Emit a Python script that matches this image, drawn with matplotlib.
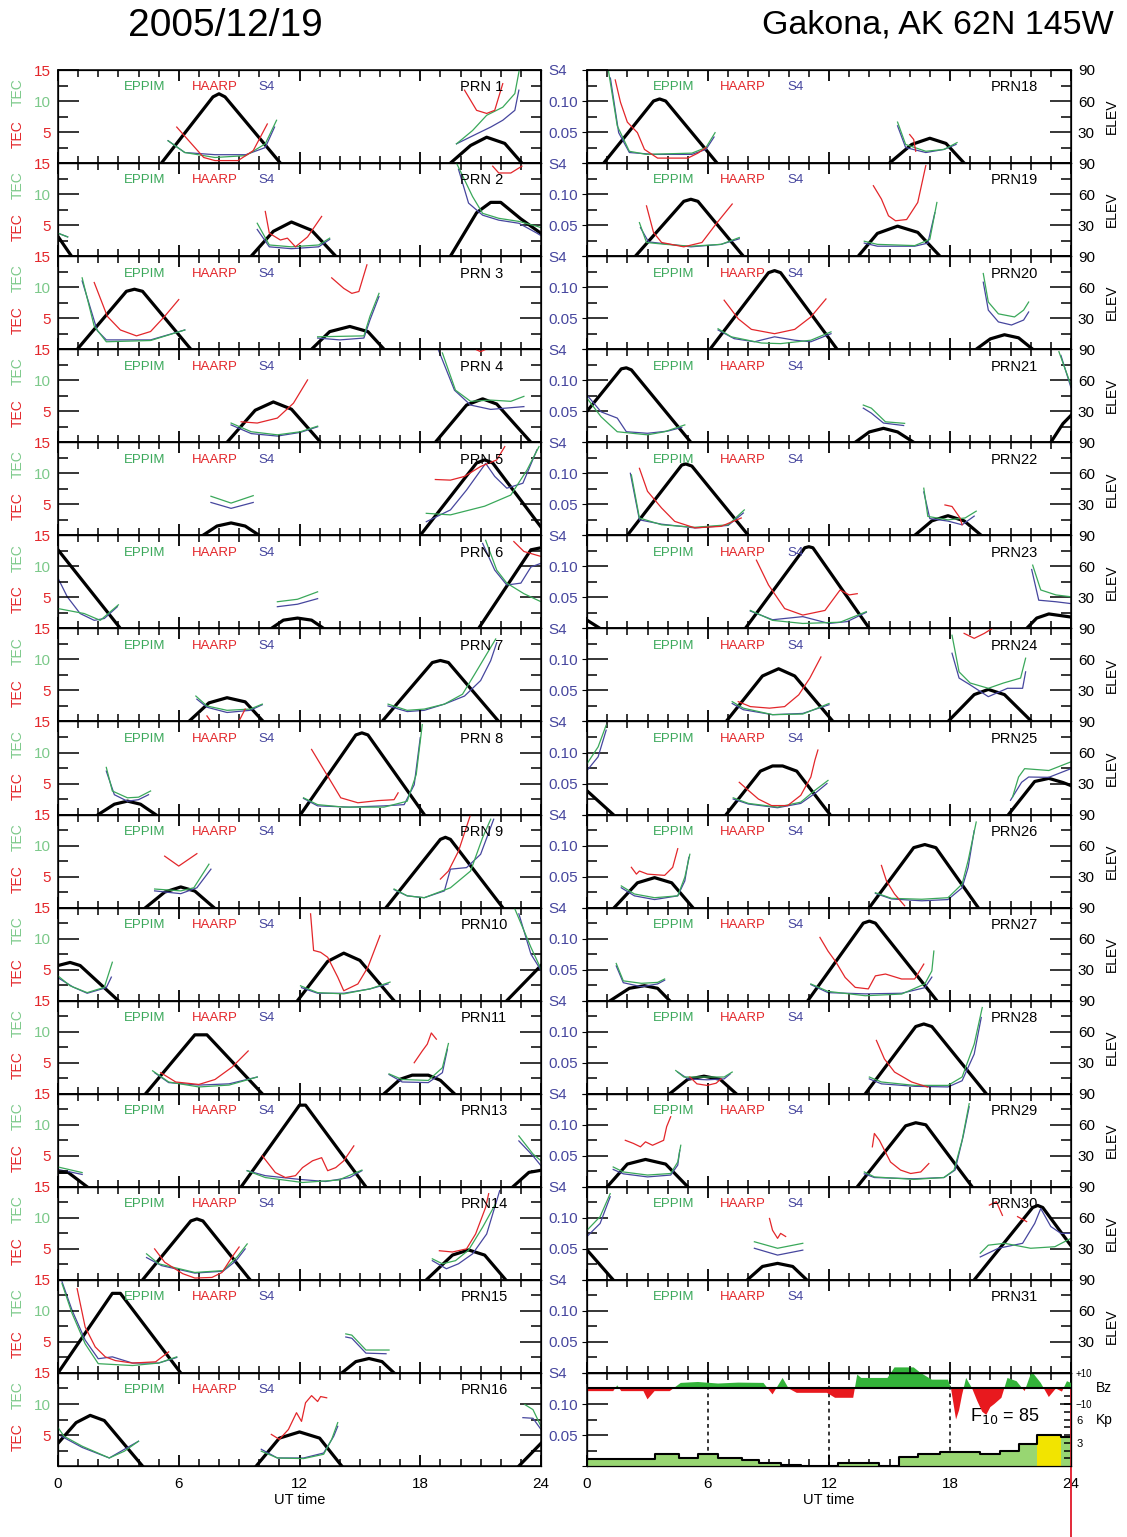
import numpy as np
import matplotlib.pyplot as plt
from matplotlib.ticker import FixedLocator

plt.rcParams['font.family'] = ['Liberation Sans', 'DejaVu Sans']

# ---- data: (UT hour, value) per pass ----
LEFT_PRNS = [1, 2, 3, 4, 5, 6, 7, 8, 9, 10, 11, 13, 14, 15, 16]
RIGHT_PRNS = [18, 19, 20, 21, 22, 23, 24, 25, 26, 27, 28, 29, 30, 31]

# elevation (deg)
ELEV = {
    1: [[(5.14, 0), (7.7, 64), (8.0, 67), (8.3, 64), (11.05, 0)], [(19.5, 0), (20.5, 17), (21.3, 25), (22.2, 19), (23.05, 0)]],
    2: [[(0, 19), (0.67, 0)], [(9.6, 0), (10.7, 24), (11.6, 33), (12.6, 25), (13.8, 0)], [(19.5, 0), (20.8, 42), (21.5, 52), (22.0, 52), (23.0, 36), (24, 22)]],
    3: [[(0.96, 0), (3.4, 56), (3.8, 58), (4.2, 56), (6.6, 0)], [(12.6, 0), (13.5, 17), (14.5, 22), (15.4, 17), (16.2, 0)]],
    4: [[(8.4, 0), (9.8, 31), (10.7, 39), (11.6, 32), (13.05, 0)], [(18.75, 0), (20.3, 36), (21.1, 42), (21.8, 37), (23.5, 0)]],
    5: [[(7.2, 0), (7.9, 9), (8.6, 12), (9.3, 9), (10.0, 0)], [(18.0, 0), (20.8, 70), (21.2, 73), (21.6, 70), (24, 8)]],
    6: [[(0, 76), (3.1, 0)], [(10.6, 0), (11.2, 8), (11.9, 10), (12.6, 8), (13.2, 0)], [(20.9, 0), (23.5, 76), (24, 78)]],
    7: [[(6.5, 0), (7.5, 18), (8.4, 23), (9.3, 19), (10.2, 0)], [(16.1, 0), (18.6, 57), (19.0, 59), (19.4, 57), (21.9, 0)]],
    8: [[(2.0, 0), (2.8, 10), (3.45, 13), (4.1, 10), (4.85, 0)], [(12.05, 0), (14.8, 77), (15.1, 79), (15.4, 77), (18.2, 0)]],
    9: [[(4.35, 0), (5.3, 15), (6.1, 20), (6.8, 16), (7.75, 0)], [(16.3, 0), (19.0, 66), (19.25, 68), (19.5, 66), (22.1, 0)]],
    10: [[(0, 34), (0.6, 37), (1.1, 34), (3.0, 0)], [(11.9, 0), (13.4, 38), (14.2, 46), (15.0, 39), (16.7, 0)], [(22.3, 0), (24, 34)]],
    11: [[(4.35, 0), (6.8, 57), (7.4, 57), (10.15, 0)], [(16.2, 0), (17.0, 14), (17.6, 18), (18.4, 18), (19.0, 13), (19.7, 0)]],
    13: [[(0, 14), (0.5, 14), (1.45, 0)], [(9.1, 0), (12.0, 79), (12.3, 79), (15.3, 0)], [(22.6, 0), (23.4, 14), (24, 16)]],
    14: [[(4.2, 0), (6.6, 57), (6.9, 59), (7.2, 57), (9.55, 0)], [(18.3, 0), (19.6, 24), (20.4, 29), (21.2, 24), (22.25, 0)]],
    15: [[(0, 0), (2.7, 77), (3.1, 77), (6.1, 0)], [(14.1, 0), (14.8, 11), (15.45, 14), (16.1, 11), (16.7, 0)]],
    16: [[(0, 22), (0.9, 42), (1.6, 49), (2.3, 44), (4.2, 0)], [(9.85, 0), (11.0, 27), (12.0, 33), (13.0, 27), (14.1, 0)], [(22.9, 0), (24, 22)]],
    18: [[(0.83, 0), (3.3, 60), (3.6, 62), (3.9, 60), (6.45, 0)], [(15.0, 0), (16.1, 18), (17.0, 24), (17.8, 19), (18.7, 0)]],
    19: [[(2.4, 0), (4.8, 53), (5.15, 55), (5.5, 53), (7.75, 0)], [(13.45, 0), (14.4, 22), (15.4, 29), (16.4, 23), (17.5, 0)]],
    20: [[(6.1, 0), (9.0, 74), (9.3, 76), (9.6, 74), (12.4, 0)], [(19.3, 0), (20.0, 10), (20.7, 14), (21.4, 11), (22.1, 0)]],
    21: [[(0, 30), (1.7, 71), (1.95, 72), (2.2, 70), (5.15, 0)], [(13.3, 0), (14.0, 10), (14.7, 13.5), (15.4, 10), (16.2, 0)], [(23.0, 0), (23.6, 18), (24, 26)]],
    22: [[(2.0, 0), (4.7, 68), (4.9, 69), (5.2, 67), (8.0, 0)], [(16.25, 0), (17.1, 14), (17.9, 19), (18.7, 14), (19.55, 0)]],
    23: [[(0, 8), (0.65, 0)], [(7.85, 0), (10.8, 78), (11.0, 79), (11.2, 78), (14.0, 0)], [(21.8, 0), (22.3, 10), (22.9, 14), (24, 11)]],
    24: [[(6.9, 0), (8.7, 44), (9.5, 51), (10.3, 44), (12.2, 0)], [(17.9, 0), (19.2, 26), (19.9, 31), (20.7, 26), (22.05, 0)]],
    25: [[(0, 23), (1.3, 0)], [(6.9, 0), (8.6, 42), (9.2, 47), (9.7, 47), (10.4, 42), (12.05, 0)], [(20.9, 0), (22.2, 32), (22.9, 35), (23.6, 31), (24, 28)]],
    26: [[(1.35, 0), (2.5, 24), (3.35, 29), (4.2, 24), (5.25, 0)], [(14.0, 0), (16.2, 58), (16.75, 61), (17.3, 58), (19.4, 0)]],
    27: [[(1.15, 0), (2.1, 12), (2.85, 14.5), (3.5, 12), (4.1, 0)], [(10.95, 0), (13.7, 75), (14.0, 77), (14.3, 75), (17.35, 0)]],
    28: [[(4.1, 0), (5.0, 14), (5.8, 17), (6.6, 14), (7.4, 0)], [(13.8, 0), (16.3, 65), (16.7, 67.5), (17.1, 65), (19.8, 0)]],
    29: [[(1.0, 0), (2.0, 22), (2.9, 26.5), (3.9, 22), (5.0, 0)], [(13.4, 0), (15.8, 59), (16.3, 62), (16.8, 60), (19.1, 0)]],
    30: [[(0, 29), (1.3, 0)], [(7.95, 0), (8.7, 13), (9.45, 16), (10.2, 13), (10.9, 0)], [(19.2, 0), (22.1, 70), (22.35, 72), (22.6, 70), (24, 33)]],
    31: [],
}

# EPPIM model TEC
EPPIM = {
    1: [[(5.47, 3.6), (6.3, 1.7), (7.8, 0.9), (9.33, 1.2), (10.3, 3.1), (10.86, 6.9)], [(19.8, 3.1), (20.6, 5.25), (21.3, 7.7), (22.1, 9.0), (22.7, 11.2), (22.95, 15.5)]],
    2: [[(0, 3.7), (0.48, 3.1)], [(9.9, 5.3), (10.5, 1.8), (11.6, 1.5), (12.95, 1.8), (13.5, 2.9)], [(19.8, 15), (20.6, 9.6), (21.1, 6.9), (21.9, 6.1), (22.9, 5.6), (23.8, 4.8), (24, 4.6)]],
    3: [[(1.2, 11.5), (1.8, 3.7), (2.4, 1.2), (4.6, 1.4), (6.3, 3.1)], [(12.9, 2.0), (15.2, 2.15), (15.5, 5.3), (15.95, 9.0)]],
    4: [[(8.6, 3.1), (9.6, 1.7), (10.9, 1.2), (12.05, 1.7), (12.9, 2.6)], [(19.1, 14.4), (19.75, 8.4), (20.5, 6.6), (21.5, 6.8), (22.5, 6.6), (23.15, 7.4)]],
    5: [[(7.6, 6.3), (8.6, 5.2), (9.7, 6.4)], [(18.3, 3.55), (19.5, 3.3), (21.2, 4.7), (22.5, 6.5), (23.3, 10.5), (23.9, 14.3)]],
    6: [[(0, 3.2), (1.3, 2.4), (2.1, 1.3), (3.0, 3.8)], [(10.9, 4.3), (11.9, 4.7), (12.9, 5.9)], [(21.25, 14.2), (21.8, 9.4), (22.3, 7.3), (23.15, 5.6), (24, 4.3)]],
    7: [[(6.85, 4.1), (7.4, 2.5), (8.4, 1.8), (9.55, 2.0), (10.15, 2.8)], [(16.4, 2.8), (17.35, 1.8), (18.2, 2.0), (19.2, 2.8), (20.1, 4.4), (20.7, 7.6), (21.75, 13.3)]],
    8: [[(2.4, 7.6), (2.7, 3.8), (3.45, 2.7), (4.0, 2.8), (4.6, 3.8)], [(12.2, 2.7), (12.9, 1.6), (14.2, 1.2), (16.2, 1.2), (17.35, 2.15), (17.8, 6.45), (18.1, 14.5)]],
    9: [[(4.8, 3.0), (6.1, 2.7), (6.75, 3.2), (7.5, 7.0)], [(16.7, 3.0), (17.35, 1.9), (18.2, 1.6), (19.5, 3.2), (20.5, 5.9), (21.1, 11.3), (21.5, 14.25)]],
    10: [[(0, 4.0), (0.6, 2.4), (1.45, 1.3), (2.3, 2.15), (2.7, 6.2)], [(12.05, 2.4), (12.9, 1.3), (14.2, 1.1), (15.5, 1.9), (16.5, 3.0)], [(22.7, 14.8), (23.5, 8.6), (24, 5.1)]],
    11: [[(4.7, 3.7), (5.5, 1.9), (7.0, 1.1), (8.5, 1.4), (9.9, 2.7)], [(16.45, 3.2), (17.1, 2.3), (18.4, 2.15), (19.1, 4.2), (19.4, 8.1)]],
    13: [[(0, 3.2), (1.2, 2.3)], [(9.4, 2.6), (10.3, 1.5), (12.15, 0.7), (13.95, 1.1), (15.1, 2.7)], [(22.9, 8.2), (23.6, 5.3), (24, 4.2)]],
    14: [[(4.4, 4.2), (5.0, 2.6), (6.8, 1.2), (8.2, 1.5), (8.9, 3.7), (9.4, 5.8)], [(18.6, 3.4), (19.1, 2.6), (19.75, 3.1), (20.4, 4.8), (21.1, 8.5), (21.75, 12.3)]],
    15: [[(0.2, 14.4), (0.7, 9.6), (1.35, 4.7), (2.0, 1.5), (3.7, 1.2), (5.0, 1.6), (5.9, 2.6)], [(14.3, 6.3), (14.6, 6.1), (15.3, 3.7), (16.45, 3.7)]],
    16: [[(0, 6.2), (0.3, 4.8), (1.2, 3.2), (2.55, 1.3), (3.3, 2.4), (4.0, 4.0)], [(10.1, 2.4), (10.9, 1.3), (12.2, 1.2), (13.2, 1.9), (13.6, 4.3), (13.9, 7.0)], [(23.2, 9.9), (23.6, 9.1), (24, 6.4)]],
    18: [[(1.07, 14.75), (1.5, 6.0), (2.1, 1.9), (2.95, 1.4), (5.2, 1.6), (5.9, 2.5), (6.35, 4.9)], [(15.4, 6.6), (15.8, 3.0), (16.8, 1.9), (17.7, 2.2), (18.35, 3.3)]],
    19: [[(2.6, 5.4), (2.95, 2.2), (3.9, 1.9), (5.15, 1.6), (6.65, 1.9), (7.55, 3.0)], [(13.75, 2.4), (14.4, 1.9), (16.25, 1.7), (17.0, 2.7), (17.35, 8.65)]],
    20: [[(6.5, 3.3), (7.15, 2.0), (8.65, 1.0), (9.6, 0.9), (11.1, 1.45), (12.1, 2.8)], [(19.65, 12.2), (19.9, 7.6), (20.4, 5.7), (21.2, 5.2), (21.65, 6.3), (21.9, 7.6)]],
    21: [[(0, 7.1), (0.7, 4.1), (1.5, 1.7), (3.0, 1.2), (3.85, 1.7), (4.85, 2.8)], [(13.7, 6.0), (14.1, 5.5), (14.8, 3.3), (15.75, 3.05)], [(23.4, 14.6), (24, 9.2)]],
    22: [[(2.2, 9.75), (2.6, 2.8), (3.7, 1.7), (5.35, 1.3), (7.0, 1.7), (7.8, 4.1)], [(16.7, 7.6), (16.9, 3.05), (17.9, 2.5), (18.75, 2.8), (19.3, 3.9)]],
    23: [[(8.1, 2.9), (9.2, 1.3), (10.7, 0.8), (12.55, 1.0), (13.85, 2.7)], [(22.1, 10.2), (22.5, 6.2), (23.25, 5.4), (24, 5.1)]],
    24: [[(7.2, 3.2), (7.75, 2.15), (9.2, 1.1), (10.7, 1.2), (12.0, 2.9)], [(18.1, 13.9), (18.45, 8.0), (19.0, 6.2), (19.9, 5.35), (20.65, 6.2), (21.5, 7.0), (21.75, 10.2)]],
    25: [[(0, 8.2), (0.55, 10.9), (0.95, 14.4)], [(7.25, 2.7), (8.0, 1.8), (9.45, 1.2), (10.6, 2.0), (11.3, 3.9), (11.95, 5.5)], [(21.1, 2.8), (21.4, 6.05), (21.7, 7.4), (22.9, 7.1), (24, 8.5)]],
    26: [[(1.7, 3.5), (2.35, 2.2), (3.35, 1.6), (4.5, 1.9), (4.85, 4.9), (5.1, 8.6)], [(14.3, 2.4), (15.1, 1.5), (16.6, 1.35), (17.9, 1.6), (18.6, 3.8), (18.9, 7.6), (19.3, 13.8)]],
    27: [[(1.45, 6.0), (1.8, 3.2), (2.7, 2.8), (3.5, 2.95), (3.85, 3.5)], [(11.1, 2.7), (11.95, 1.5), (13.8, 0.8), (15.6, 1.07), (16.75, 2.7), (17.1, 4.8), (17.2, 8.0)]],
    28: [[(4.4, 3.75), (4.8, 2.7), (5.95, 2.7), (6.8, 2.7), (7.2, 3.5)], [(14.0, 2.7), (14.6, 1.9), (16.25, 1.35), (17.9, 1.35), (18.6, 2.7), (19.2, 8.0), (19.6, 13.9)]],
    29: [[(1.3, 3.2), (1.8, 2.4), (3.0, 1.9), (4.15, 2.15), (4.5, 4.0), (4.65, 6.7)], [(13.75, 2.4), (14.25, 1.6), (16.2, 1.2), (17.7, 1.5), (18.2, 2.7), (18.6, 7.5), (18.95, 13.4)]],
    30: [[(0, 8.0), (0.65, 10.2), (1.15, 13.9)], [(8.3, 6.15), (9.45, 5.1), (10.7, 5.9)], [(19.5, 4.3), (19.9, 5.6), (20.7, 5.9), (22.0, 5.1), (23.2, 5.35), (24, 6.7)]],
    31: [],
}

# HAARP measured TEC
HAARP = {
    1: [[(5.9, 5.8), (6.5, 3.6), (7.24, 0.9), (7.8, 0.4), (8.95, 0.4), (9.7, 2.0), (10.4, 6.3)], [(20.2, 11.75), (20.8, 8.5), (21.3, 8.0), (21.7, 8.5), (22.1, 12.8)]],
    2: [[(10.3, 7.2), (10.5, 3.7), (11.05, 2.6), (11.4, 2.9), (11.8, 1.5), (12.4, 3.1), (13.1, 6.4)], [(21.6, 14.5), (21.9, 13.4), (22.5, 13.4), (23.05, 14.5)]],
    3: [[(1.8, 10.75), (2.45, 5.3), (3.1, 3.1), (3.9, 2.15), (4.6, 2.85), (5.3, 5.3), (6.0, 8.0)], [(13.6, 11.5), (14.2, 9.8), (14.6, 9.0), (14.95, 9.3), (15.35, 13.6)]],
    4: [[(9.1, 3.3), (9.9, 3.1), (10.9, 3.9), (11.7, 6.3), (12.4, 10.05)], [(20.8, 14.9), (21.0, 14.6), (21.2, 14.9)]],
    5: [[(18.75, 9.0), (19.5, 8.9), (20.2, 9.5), (21.0, 11.1), (21.8, 12.15), (22.2, 14.3)]],
    6: [[(22.65, 14.0), (23.15, 12.4), (24, 11.6)]],
    7: [[(7.4, 0.9), (7.6, 0.0)], [(9.0, 0.1), (9.3, 2.0)]],
    8: [[(12.6, 10.5), (13.4, 6.2), (14.05, 2.7), (14.9, 1.9), (15.9, 2.25), (16.7, 2.4), (16.9, 3.5)]],
    9: [[(5.3, 8.3), (6.0, 6.7), (6.9, 8.7)], [(19.0, 4.6), (19.4, 5.9), (19.9, 9.1), (20.5, 15.0)]],
    10: [[(12.55, 14.0), (12.7, 8.1), (13.05, 7.8), (13.4, 7.0), (13.9, 3.8), (14.2, 1.6), (14.9, 2.7), (15.4, 5.4), (16.0, 10.5)]],
    11: [[(5.1, 3.4), (5.85, 1.9), (7.0, 1.5), (7.8, 2.3), (8.65, 4.3), (9.45, 6.9)], [(17.7, 5.0), (18.1, 6.9), (18.35, 8.0), (18.55, 9.8), (18.8, 8.8)]],
    13: [[(10.15, 5.0), (10.8, 2.3), (11.3, 1.5), (11.8, 1.8), (12.15, 3.1), (12.65, 4.2), (13.1, 4.7), (13.4, 2.6), (13.8, 3.1), (14.2, 4.2), (14.7, 6.6)]],
    14: [[(4.8, 5.0), (5.3, 2.85), (6.2, 1.0), (6.8, 0.3), (7.65, 0.4), (8.15, 1.2), (8.65, 3.7), (9.0, 5.3)], [(18.95, 4.7), (19.6, 4.5), (20.3, 5.0), (20.75, 7.4), (21.25, 11.7), (21.4, 13.9)]],
    15: [[(0.95, 13.6), (1.35, 7.4), (1.85, 4.2), (2.35, 2.6), (2.85, 2.0), (3.7, 1.6), (4.85, 1.8), (5.5, 3.4)]],
    16: [[(10.6, 5.1), (11.0, 4.3), (11.45, 5.9), (11.85, 8.6), (12.1, 7.2), (12.3, 10.2), (12.6, 11.35), (12.9, 10.4), (13.05, 11.2), (13.35, 11.0)]],
    18: [[(1.4, 13.4), (1.66, 9.8), (2.0, 6.6), (2.5, 4.9), (2.85, 2.2), (3.5, 0.8), (5.0, 0.8), (5.5, 1.6), (5.9, 2.5)], [(16.0, 4.6), (16.2, 3.8), (16.3, 1.9)]],
    19: [[(2.95, 8.1), (3.3, 3.8), (3.7, 2.2), (4.8, 1.5), (5.7, 2.2), (6.45, 5.4), (7.2, 8.4)], [(14.2, 11.35), (14.6, 9.2), (14.95, 6.5), (15.3, 5.7), (15.85, 5.9), (16.4, 8.65), (16.8, 14.6)]],
    20: [[(6.8, 7.9), (7.5, 4.9), (8.15, 3.2), (9.3, 2.5), (10.3, 3.2), (11.1, 5.2), (11.85, 8.1)]],
    21: [],
    22: [[(2.6, 10.8), (3.0, 7.1), (3.7, 4.4), (4.35, 2.25), (5.35, 1.2), (6.65, 1.45), (7.65, 2.8)], [(17.75, 4.9), (18.1, 4.65), (18.5, 2.8), (18.6, 1.7)]],
    23: [[(8.4, 11.0), (9.0, 7.0), (9.8, 3.2), (10.7, 2.15), (11.8, 2.9), (12.55, 6.2), (13.0, 5.4), (13.4, 5.6)]],
    24: [[(7.5, 3.2), (8.1, 2.4), (9.05, 2.15), (9.8, 2.4), (10.5, 4.3), (11.05, 7.0), (11.6, 10.4)], [(18.7, 14.2), (19.2, 13.4), (19.7, 14.2), (20.1, 15.0)]],
    25: [[(7.55, 5.2), (8.0, 3.9), (8.5, 2.5), (9.15, 1.45), (9.95, 1.45), (10.6, 3.1), (11.1, 6.05), (11.3, 8.75), (11.45, 10.4)]],
    26: [[(2.2, 6.5), (2.45, 5.4), (2.6, 5.9), (3.0, 5.4), (3.85, 5.2), (4.25, 6.5), (4.5, 9.5)], [(14.6, 6.8), (14.85, 4.3), (15.25, 2.2), (15.75, 0.3)]],
    27: [[(11.55, 10.2), (11.95, 8.0), (12.35, 6.2), (12.8, 3.75), (13.3, 2.15), (13.95, 1.9), (14.3, 4.0), (14.8, 4.3), (15.6, 3.5), (16.25, 3.5), (16.7, 5.9)]],
    28: [[(5.1, 2.7), (5.45, 1.6), (5.95, 1.35), (6.4, 1.7), (6.65, 2.4)], [(14.35, 8.6), (14.75, 5.6), (15.25, 3.5), (16.1, 1.9), (16.9, 1.07)]],
    29: [[(1.9, 7.5), (2.3, 7.0), (2.65, 6.45), (2.9, 7.25), (3.25, 6.7), (3.8, 7.5), (3.95, 9.7), (4.15, 11.3)], [(14.15, 6.45), (14.25, 8.6), (14.5, 7.5), (14.75, 5.9), (15.05, 4.0), (15.55, 2.7), (16.05, 2.15), (16.55, 2.4), (16.95, 3.75)]],
    30: [[(9.05, 9.9), (9.2, 8.0), (9.45, 6.7), (9.6, 7.5), (9.85, 7.0)], [(19.95, 12.05), (20.3, 12.6), (20.6, 10.4)], [(21.35, 10.2), (21.8, 9.4)]],
    31: [],
}

# S4 scintillation index
S4 = {
    1: [[(5.47, .036), (6.3, .017), (7.8, .0135), (9.33, .0135), (10.3, .025), (10.76, .058)], [(19.8, .031), (20.8, .047), (21.5, .058), (22.1, .069), (22.7, .085), (22.9, .1175)]],
    2: [[(0, .037), (0.48, .031)], [(9.9, .043), (10.5, .015), (11.6, .012), (12.95, .015), (13.5, .027)], [(19.9, .14), (20.4, .0855), (21.1, .066), (21.9, .058), (22.9, .053), (23.8, .037), (24, .033)]],
    3: [[(1.2, .11), (1.95, .03), (2.4, .015), (4.6, .015), (6.3, .031)], [(12.9, .018), (14.0, .015), (15.2, .018), (15.5, .047), (15.95, .085)]],
    4: [[(8.6, .028), (9.6, .014), (10.9, .01), (12.05, .016), (12.9, .025)], [(18.9, .149), (19.7, .084), (20.5, .06), (21.5, .053), (23.15, .0575)]],
    5: [[(7.6, .053), (8.6, .0435), (9.7, .053)], [(18.3, .022), (19.5, .041), (20.3, .073), (21.25, .116), (21.7, .095), (22.3, .076), (23.1, .084), (23.8, .138)]],
    6: [[(0, .081), (0.46, .051), (1.1, .024), (1.8, .013), (2.3, .016), (2.95, .035)], [(10.9, .035), (11.9, .039), (12.9, .048)], [(21.1, .137), (21.7, .094), (22.3, .07), (23.0, .073), (23.5, .099), (24, .105)]],
    7: [[(6.9, .036), (7.4, .023), (8.4, .0145), (9.55, .018), (10.15, .027)], [(16.4, .025), (17.35, .016), (18.2, .018), (19.2, .028), (20.2, .041), (21.0, .066), (21.5, .098), (21.8, .127)]],
    8: [[(2.4, .07), (2.8, .032), (3.45, .0215), (4.0, .024), (4.5, .032)], [(12.2, .026), (12.9, .014), (14.5, .012), (16.2, .014), (17.2, .016), (17.7, .048), (18.0, .124)]],
    9: [[(4.8, .027), (6.1, .0225), (6.9, .032), (7.6, .062)], [(16.7, .029), (17.35, .019), (18.2, .016), (19.2, .027), (19.5, .062), (20.3, .0645), (21.0, .086), (21.65, .1425)]],
    10: [[(0, .037), (0.75, .022), (1.45, .012), (2.4, .021), (2.65, .038)], [(12.1, .021), (12.9, .012), (14.2, .012), (15.5, .019), (16.4, .027)], [(22.9, .14), (23.5, .075), (24, .049)]],
    11: [[(4.8, .034), (5.5, .018), (7.0, .014), (8.5, .016), (9.9, .027)], [(16.45, .031), (17.1, .019), (18.4, .018), (19.1, .034), (19.35, .072)]],
    13: [[(0, .028), (1.2, .02)], [(9.4, .026), (10.3, .018), (12.0, .012), (13.3, .0086), (14.5, .015), (15.1, .026)], [(22.9, .074), (23.6, .05), (24, .034)]],
    14: [[(4.4, .036), (5.15, .023), (6.8, .011), (8.2, .014), (8.85, .031), (9.3, .05)], [(18.6, .031), (19.3, .018), (19.9, .026), (20.6, .042), (21.3, .074), (21.95, .144)]],
    15: [[(0.2, .147), (0.7, .101), (1.35, .053), (2.0, .023), (2.7, .026), (3.7, .016), (5.0, .016), (5.9, .025)], [(14.3, .058), (14.6, .056), (15.3, .032), (16.3, .031)]],
    16: [[(0, .051), (1.2, .03), (2.55, .013), (3.3, .027), (4.0, .04)], [(10.1, .027), (10.9, .013), (12.2, .013), (13.2, .021), (13.7, .048), (13.9, .064)], [(23.1, .078), (23.6, .077), (24, .059)]],
    18: [[(1.16, .137), (1.57, .049), (2.1, .017), (3.3, .014), (5.2, .014), (5.9, .022), (6.3, .042)], [(15.4, .06), (15.8, .025), (16.8, .017), (17.7, .022), (18.3, .03)]],
    19: [[(2.65, .046), (3.05, .023), (5.15, .015), (6.65, .019), (7.55, .028)], [(13.75, .021), (14.4, .016), (16.25, .016), (16.9, .021), (17.25, .07)]],
    20: [[(6.5, .031), (7.3, .017), (8.3, .012), (9.3, .02), (10.3, .0145), (11.1, .012), (12.1, .025)], [(19.65, .108), (19.9, .063), (20.4, .044), (21.05, .039), (21.65, .047), (21.9, .06)]],
    21: [[(0, .076), (0.7, .049), (1.5, .039), (1.95, .017), (3.0, .0145), (4.0, .018), (4.7, .024)], [(13.7, .055), (14.1, .047), (14.7, .031), (15.7, .027)], [(23.5, .14), (24, .088)]],
    22: [[(2.15, .1), (2.6, .025), (3.7, .018), (5.35, .012), (7.0, .016), (7.75, .036)], [(16.7, .07), (17.0, .027), (17.9, .023), (18.6, .017), (19.2, .031)]],
    23: [[(8.1, .028), (9.2, .014), (10.7, .019), (12.0, .008), (12.9, .011), (13.85, .026)], [(22.05, .095), (22.4, .0455), (23.25, .043), (24, .04)]],
    24: [[(7.2, .029), (7.75, .019), (9.2, .011), (10.7, .013), (12.0, .027)], [(18.1, .11), (18.45, .07), (19.0, .059), (19.9, .04), (20.85, .0535), (21.6, .0535), (21.75, .08)]],
    25: [[(0, .071), (0.55, .093), (0.95, .136)], [(7.25, .025), (8.0, .017), (9.45, .011), (10.6, .018), (11.3, .034), (11.9, .05)], [(21.0, .023), (21.55, .052), (21.9, .0605), (22.9, .06), (24, .074)]],
    26: [[(1.7, .032), (2.35, .019), (3.35, .013), (4.5, .019), (4.85, .043), (5.05, .081)], [(14.3, .023), (15.1, .014), (16.6, .011), (17.9, .013), (18.6, .032), (18.9, .065), (19.2, .124)]],
    27: [[(1.45, .056), (1.8, .029), (2.7, .0225), (3.5, .027), (3.85, .033)], [(11.1, .026), (11.95, .013), (13.8, .011), (15.6, .012), (16.75, .021), (17.1, .038)]],
    28: [[(4.5, .035), (5.0, .024), (5.95, .0225), (6.8, .024), (7.1, .032)], [(14.0, .024), (14.6, .016), (16.25, .012), (17.9, .011), (18.6, .021), (19.2, .064), (19.55, .123)]],
    29: [[(1.3, .028), (1.8, .021), (3.0, .016), (4.15, .019), (4.5, .035), (4.6, .059)], [(13.75, .021), (14.25, .015), (16.2, .013), (17.7, .015), (18.25, .027), (18.65, .081), (18.95, .129)]],
    30: [[(0, .07), (0.65, .091), (1.15, .134)], [(8.3, .051), (9.45, .04), (10.7, .048)], [(19.5, .037), (20.4, .051), (21.6, .059), (22.2, .091), (22.5, .115), (23.0, .086), (23.5, .075), (24, .075)]],
    31: [],
}

# geomagnetic panel
BZ_T = [0, 1.3, 1.5, 1.7, 2.8, 3.0, 3.35, 4.1, 4.65, 5.5, 6.5, 7.5, 8.75, 9.2, 9.7, 10.0, 10.4, 11.9, 12.3,
        13.2, 13.4, 13.6, 14.9, 15.25, 16.2, 16.55, 17.1, 17.9, 18.05, 18.2, 18.3, 18.45, 18.6, 18.8, 19.1,
        19.35, 19.6, 19.8, 20.0, 20.2, 20.55, 20.85, 21.3, 21.7, 22.05, 22.5, 22.9, 23.25, 23.55, 23.8, 24.0]
BZ = [-1.7, -1.7, 2, -1.7, -1.7, -7, -1.7, -1.7, 3.6, 4.2, 3.2, 3.8, 3.6, -3.8, 6.8, 0, -2.8, -2.8, -6,
      -6, 9, 6.8, 6.8, 13.6, 13.6, 10, 5.7, 5.7, 0, -12, -20, -14, -4, 6.8, 0,
      -8, -15, -17, -12, -10, -6, 6.8, 4.7, -1.7, 11, 3.6, -5.5, 0, -2, 4.7, 3.6]
KP_EDGES = [0, 0.47, 3.35, 4.55, 5.5, 6.5, 7.7, 8.55, 9.6, 10.6, 12.45, 14.5, 15.45, 16.4, 17.5, 19.5,
            20.5, 21.4, 22.3, 23.5, 24]
KP = [0.85, 0.86, 1.5, 1.07, 1.5, 1.07, 0.73, 0.43, 0.13, 0.0, 0.4, 0.0, 1.2, 1.6, 1.8, 1.6, 1.9, 2.9, 4.0, 3.8]
F10 = 85

GREEN = '#3aa85a'
RED = '#e3262a'
BLUE = '#46469e'

W, H = 1127, 1537
fig = plt.figure(figsize=(W / 100, H / 100), dpi=100)
fig.patch.set_facecolor('white')

TOP, PH = 70, 93.07
COLS = {'left': (58, 483), 'right': (587, 484)}


def draw(axis, passes, **kw):
    for p in passes:
        t, v = zip(*p)
        axis.plot(t, v, **kw)


def y_ticks(axis, major, minor, labels, colors, side, show=True):
    axis.set_yticks(major)
    axis.set_yticklabels(labels)
    axis.yaxis.set_minor_locator(FixedLocator(minor))
    if side == 'left':
        axis.yaxis.tick_left()
    else:
        axis.yaxis.tick_right()
    axis.tick_params(axis='y', which='both', direction='in', labelsize=11, pad=5)
    axis.tick_params(axis='y', which='major', length=15, width=1.1)
    axis.tick_params(axis='y', which='minor', length=7, width=1.1)
    for lbl, c in zip(axis.get_yticklabels(), colors):
        lbl.set_color(c)
    if not show:
        axis.tick_params(axis='y', labelleft=False, labelright=False)


def make_panel(col, k, last):
    x0, w = COLS[col]
    top = TOP + k * PH
    ax = fig.add_axes([x0 / W, 1 - (top + PH) / H, w / W, PH / H])
    ax.set_xlim(0, 24)
    ax.set_ylim(0, 15)
    ax.set_xticks([0, 6, 12, 18, 24])
    ax.xaxis.set_minor_locator(FixedLocator(range(1, 24)))
    ax.tick_params(axis='x', which='both', direction='in', top=True, bottom=True,
                   labelbottom=last, labelsize=11, pad=8)
    ax.tick_params(axis='x', which='major', length=8, width=1.3)
    ax.tick_params(axis='x', which='minor', length=5, width=1.1)
    for s in ax.spines.values():
        s.set_linewidth(1.1)
    if last:
        ax.set_xlabel('UT time', fontsize=10.5, labelpad=1)
    return ax


# ---- left column ----
for k, prn in enumerate(LEFT_PRNS):
    last = k == len(LEFT_PRNS) - 1
    ax = make_panel('left', k, last)
    el = ax.twinx()
    el.set_ylim(0, 90)
    el.set_yticks([])
    s4 = ax.twinx()
    s4.set_ylim(0, 0.15)
    s4.set_xlim(0, 24)
    y_ticks(ax, [5, 10, 15], [2.5, 7.5, 12.5], ['5', '10', '15'], [RED, '#7cc98a', RED], 'left')
    y_ticks(s4, [0.05, 0.10, 0.15], [0.025, 0.075, 0.125], ['0.05', '0.10', 'S4'], [BLUE] * 3, 'right')
    ax.set_zorder(3)
    ax.patch.set_visible(False)
    el.set_zorder(1)
    s4.set_zorder(2)

    draw(el, ELEV[prn], color='black', lw=2.3)
    draw(s4, S4[prn], color=BLUE, lw=0.9)
    draw(ax, EPPIM[prn], color=GREEN, lw=0.9)
    draw(ax, HAARP[prn], color=RED, lw=0.9)

    ax.text(3.25, 12.2, 'EPPIM', color=GREEN, fontsize=9.5, va='center')
    ax.text(6.65, 12.2, 'HAARP', color=RED, fontsize=9.5, va='center')
    ax.text(9.95, 12.2, 'S4', color=BLUE, fontsize=9.5, va='center')
    ax.text(20.0, 12.2, f'PRN{prn:2d}', color='black', fontsize=10.5, va='center')
    ax.text(-0.083, 0.31, 'TEC', color=RED, fontsize=10, rotation=90,
            ha='center', va='center', transform=ax.transAxes)
    ax.text(-0.083, 0.76, 'TEC', color='#7cc98a', fontsize=10, rotation=90,
            ha='center', va='center', transform=ax.transAxes)

# ---- right column (S4 labels are shared with the left column) ----
for k, prn in enumerate(RIGHT_PRNS):
    ax = make_panel('right', k, False)
    ax.tick_params(axis='y', left=False, labelleft=False, right=False, labelright=False)
    s4 = ax.twinx()
    s4.set_ylim(0, 0.15)
    el = ax.twinx()
    el.set_ylim(0, 90)
    y_ticks(s4, [0.05, 0.10, 0.15], [0.025, 0.075, 0.125], ['0.05', '0.10', 'S4'], [BLUE] * 3, 'left', show=False)
    y_ticks(el, [30, 60, 90], [15, 45, 75], ['30', '60', '90'], ['black'] * 3, 'right')
    ax.set_zorder(3)
    ax.patch.set_visible(False)
    el.set_zorder(1)
    s4.set_zorder(2)

    draw(el, ELEV[prn], color='black', lw=2.3)
    draw(s4, S4[prn], color=BLUE, lw=0.9)
    draw(ax, EPPIM[prn], color=GREEN, lw=0.9)
    draw(ax, HAARP[prn], color=RED, lw=0.9)

    ax.text(3.25, 12.2, 'EPPIM', color=GREEN, fontsize=9.5, va='center')
    ax.text(6.6, 12.2, 'HAARP', color=RED, fontsize=9.5, va='center')
    ax.text(9.95, 12.2, 'S4', color=BLUE, fontsize=9.5, va='center')
    ax.text(20.0, 12.2, f'PRN{prn:2d}', color='black', fontsize=10.5, va='center')
    ax.text(1.085, 0.5, 'ELEV', color='black', fontsize=10, rotation=90,
            ha='center', va='center', transform=ax.transAxes)

# ---- Bz / Kp panel ----
ax = make_panel('right', len(RIGHT_PRNS), True)
ax.tick_params(axis='y', left=False, labelleft=False, right=False, labelright=False)
s4 = ax.twinx()
s4.set_ylim(0, 0.15)
y_ticks(s4, [0.05, 0.10, 0.15], [0.025, 0.075, 0.125], ['0.05', '0.10', 'S4'], [BLUE] * 3, 'left', show=False)

kp = ax.twinx()
kp.set_ylim(0, 12)
y_ticks(kp, [3, 6], [1, 2, 4, 5, 7, 8, 9], ['3', '6'], ['black'] * 2, 'right')
kp.tick_params(axis='y', which='both', labelsize=8, length=5, pad=4)
bz = ax.twinx()
bz.set_ylim(-50, 10)
y_ticks(bz, [-10, 10], [], ['\u221210', '+10'], ['black'] * 2, 'right')
bz.tick_params(axis='y', which='both', labelsize=7, length=8, pad=3)

kp.vlines([6, 12, 18], 0, 12, colors='black', linestyles=(0, (2.5, 2.5)), lw=1.1, zorder=0.5)
colors = ['#f2e400' if v >= 4 else '#98d672' for v in KP]
kp.bar(KP_EDGES[:-1], KP, width=np.diff(KP_EDGES), align='edge', color=colors, linewidth=0)
kp.step(KP_EDGES, KP + [KP[-1]], where='post', color='black', lw=1.5)

bz_t = np.array(BZ_T)
bz_v = np.array(BZ)
bz.fill_between(bz_t, bz_v, 0, where=bz_v >= 0, interpolate=True, color='#33b33a', lw=0, clip_on=False)
bz.fill_between(bz_t, bz_v, 0, where=bz_v <= 0, interpolate=True, color='#e8191e', lw=0)
bz.axhline(0, color='black', lw=1.5)

kp.text(19.0, 6.4, f'F$_{{10}}$ = {F10}', fontsize=13, va='center')
tr = kp.get_yaxis_transform()
kp.text(1.052, 10.0, 'Bz', fontsize=10, va='center', transform=tr)
kp.text(1.052, 6.0, 'Kp', fontsize=10, va='center', transform=tr)
kp.plot([1, 1], [0.83, -0.77], color='#e0182a', lw=1.3, transform=kp.transAxes, clip_on=False)

# ---- titles ----
fig.text(225 / W, 1 - 26 / H, '2005/12/19', fontsize=28, ha='center', va='center')
fig.text(938 / W, 1 - 25 / H, 'Gakona, AK 62N 145W', fontsize=24.5, ha='center', va='center')

fig.savefig('out.png', dpi=100, facecolor='white')
